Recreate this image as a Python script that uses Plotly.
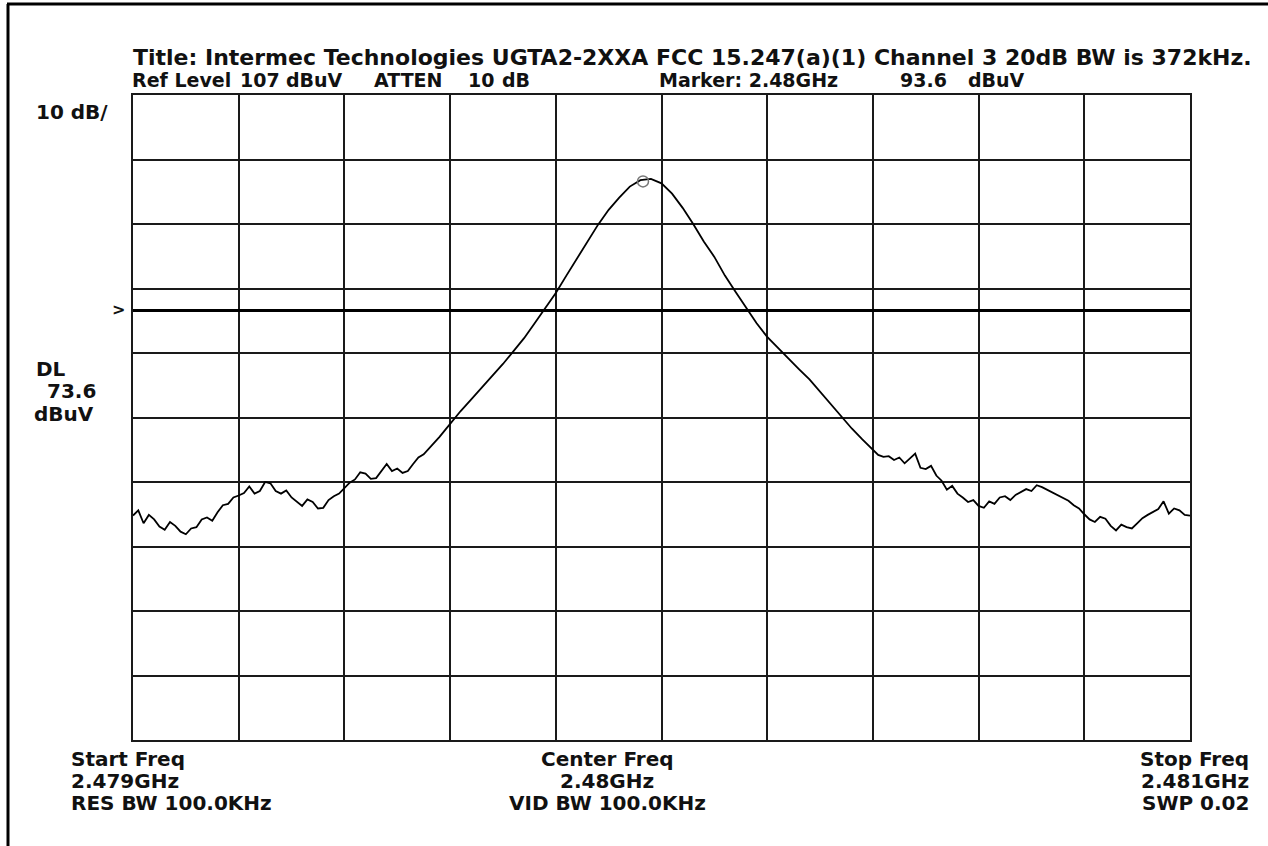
import plotly.graph_objects as go

# ---- data ----
freq_mhz = [
    # left noise floor, 10 kHz steps
    2479.00, 2479.01, 2479.02, 2479.03, 2479.04, 2479.05, 2479.06, 2479.07, 2479.08, 2479.09,
    2479.10, 2479.11, 2479.12, 2479.13, 2479.14, 2479.15, 2479.16, 2479.17, 2479.18, 2479.19,
    2479.20, 2479.21, 2479.22, 2479.23, 2479.24, 2479.25, 2479.26, 2479.27, 2479.28, 2479.29,
    2479.30, 2479.31, 2479.32, 2479.33, 2479.34, 2479.35, 2479.36, 2479.37, 2479.38, 2479.39,
    2479.40, 2479.41, 2479.42, 2479.43, 2479.44, 2479.45, 2479.46, 2479.47, 2479.48, 2479.49,
    2479.50, 2479.51, 2479.52, 2479.53, 2479.54, 2479.55, 2479.56, 2479.57, 2479.58, 2479.59,
    2479.60,
    # main lobe, 20 kHz steps
    2479.62, 2479.64, 2479.66, 2479.68, 2479.70, 2479.72, 2479.74, 2479.76, 2479.78, 2479.80,
    2479.82, 2479.84, 2479.86, 2479.88, 2479.90, 2479.92, 2479.94, 2479.96, 2479.98, 2480.00,
    2480.02, 2480.04, 2480.06, 2480.08, 2480.10, 2480.12, 2480.14, 2480.16, 2480.18, 2480.20,
    2480.22, 2480.24, 2480.26, 2480.28, 2480.30, 2480.32, 2480.34, 2480.36, 2480.38,
    # right noise floor, 10 kHz steps
    2480.40, 2480.41, 2480.42, 2480.43, 2480.44, 2480.45, 2480.46, 2480.47, 2480.48, 2480.49,
    2480.50, 2480.51, 2480.52, 2480.53, 2480.54, 2480.55, 2480.56, 2480.57, 2480.58, 2480.59,
    2480.60, 2480.61, 2480.62, 2480.63, 2480.64, 2480.65, 2480.66, 2480.67, 2480.68, 2480.69,
    2480.70, 2480.71, 2480.72, 2480.73, 2480.74, 2480.75, 2480.76, 2480.77, 2480.78, 2480.79,
    2480.80, 2480.81, 2480.82, 2480.83, 2480.84, 2480.85, 2480.86, 2480.87, 2480.88, 2480.89,
    2480.90, 2480.91, 2480.92, 2480.93, 2480.94, 2480.95, 2480.96, 2480.97, 2480.98, 2480.99,
    2481.00]
level_dbuv = [
    41.8, 42.6, 40.6, 41.9, 41.2, 40.1, 39.6, 40.8, 40.2, 39.3,
    38.9, 39.8, 40.0, 41.2, 41.5, 41.0, 42.3, 43.4, 43.6, 44.6,
    44.9, 45.3, 46.3, 45.2, 45.6, 47.0, 46.8, 45.6, 45.2, 45.7,
    44.6, 43.9, 43.3, 44.3, 43.9, 42.9, 43.0, 44.2, 44.8, 45.2,
    46.0, 46.9, 47.4, 48.5, 48.3, 47.5, 47.6, 48.8, 49.8, 48.7,
    49.1, 48.4, 48.7, 49.8, 50.8, 51.3, 52.2, 53.0, 54.0, 55.0,
    56.0,
    58.0, 59.8, 61.6, 63.5, 65.3, 67.3, 69.3, 71.6, 73.9, 76.3,
    79.0, 81.6, 84.2, 86.9, 89.2, 91.1, 92.8, 93.8, 94.0, 93.3,
    91.7, 89.5, 87.0, 84.3, 81.9, 79.0, 76.5, 74.0, 71.6, 69.5,
    67.8, 66.1, 64.5, 62.9, 61.0, 59.0, 57.2, 55.3, 53.6,
    51.9, 51.2, 50.9, 51.0, 50.4, 50.8, 49.9, 50.6, 51.4, 49.2,
    49.0, 49.5, 48.0, 47.2, 45.8, 46.4, 45.2, 44.6, 43.9, 44.2,
    43.3, 43.0, 44.0, 43.6, 44.6, 44.8, 44.2, 45.0, 45.4, 45.9,
    45.6, 46.5, 46.2, 45.8, 45.4, 45.0, 44.6, 44.1, 43.4, 42.9,
    42.0, 41.2, 40.8, 41.6, 41.3, 40.2, 39.5, 40.4, 40.0, 39.8,
    40.6, 41.4, 41.9, 42.3, 42.8, 44.0, 42.1, 42.9, 42.6, 41.9,
    41.8]
marker_freq = [2479.965]
marker_level = [93.6]
ref_level = 107
db_per_div = 10
display_line = 73.6
start_freq = 2479.0
stop_freq = 2481.0
x_ticks = [2479.0, 2479.2, 2479.4, 2479.6, 2479.8, 2480.0, 2480.2, 2480.4, 2480.6, 2480.8, 2481.0]

W, H = 1268, 846
L, R, T, B = 133, 1190, 95, 740
FONT = "DejaVu Sans"
INK = "#111111"

fig = go.Figure()
fig.add_trace(go.Scatter(x=freq_mhz, y=level_dbuv, mode="lines",
                         line=dict(color="#000000", width=1.8), showlegend=False))
fig.add_trace(go.Scatter(x=marker_freq, y=marker_level, mode="markers",
                         marker=dict(symbol="circle-open", size=11, color="#777777",
                                     line=dict(width=1.5, color="#777777")),
                         showlegend=False))

# display line
fig.add_shape(type="line", xref="x", yref="y", x0=start_freq, x1=stop_freq,
              y0=display_line, y1=display_line, line=dict(color="#000000", width=3))


def px(x):
    return (x - L) / (R - L)


def py(y):
    return (B - y) / (B - T)


def note(text, x, y, xanchor="left", size=20):
    fig.add_annotation(text=text, x=px(x), y=py(y), xref="paper", yref="paper",
                       xanchor=xanchor, yanchor="middle", showarrow=False,
                       font=dict(family=FONT, size=size, color=INK, weight="bold"))


note("Title: Intermec Technologies UGTA2-2XXA FCC 15.247(a)(1) Channel 3 20dB BW is 372kHz.", 131, 57, size=22)
note("Ref Level", 130, 80, size=19)
note("107", 238, 80, size=19)
note("dBuV", 284, 80, size=19)
note("ATTEN", 372, 80, size=19)
note("10", 466, 80, size=19)
note("dB", 500, 80, size=19)
note("Marker: 2.48GHz", 657, 80, size=19)
note("93.6", 898, 80, size=19)
note("dBuV", 966, 80, size=19)
note("10 dB/", 34, 112)
note(">", 110, 309, size=16)
note("DL", 34, 369)
note("73.6", 45, 391)
note("dBuV", 32, 414)
note("Start Freq", 69, 759)
note("2.479GHz", 69, 781)
note("RES BW 100.0KHz", 69, 803)
note("Center Freq", 607, 759, xanchor="center")
note("2.48GHz", 607, 781, xanchor="center")
note("VID BW 100.0KHz", 607, 803, xanchor="center")
note("Stop Freq", 1251, 759, xanchor="right")
note("2.481GHz", 1251, 781, xanchor="right")
note("SWP 0.02", 1251, 803, xanchor="right")

# outer frame (top and left edges)
fig.add_shape(type="line", xref="paper", yref="paper", x0=px(7), x1=px(W), y0=py(4), y1=py(4),
              line=dict(color="#000000", width=3))
fig.add_shape(type="line", xref="paper", yref="paper", x0=px(8), x1=px(8), y0=py(4), y1=py(H),
              line=dict(color="#000000", width=3))

fig.update_xaxes(range=[start_freq, stop_freq], tickvals=x_ticks, showticklabels=False,
                 showgrid=True, gridcolor="#1a1a1a", gridwidth=2, zeroline=False,
                 showline=True, linecolor="#1a1a1a", linewidth=2, mirror=True, ticks="")
fig.update_yaxes(range=[ref_level - 10 * db_per_div, ref_level], dtick=db_per_div, tick0=7,
                 showticklabels=False, showgrid=True, gridcolor="#1a1a1a", gridwidth=2,
                 zeroline=False, showline=True, linecolor="#1a1a1a", linewidth=2, mirror=True,
                 ticks="")
fig.update_layout(width=W, height=H, margin=dict(l=L, r=W - R, t=T, b=H - B),
                  paper_bgcolor="white", plot_bgcolor="white")
fig.write_html("out.html", config={"displayModeBar": False},
               post_script="document.body.style.margin='0';document.body.style.overflow='hidden';")
